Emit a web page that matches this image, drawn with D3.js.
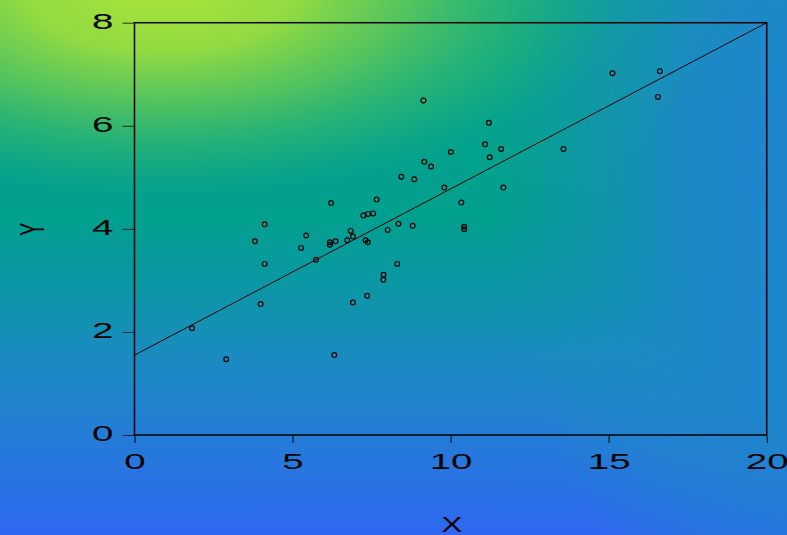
<!DOCTYPE html>
<html>
<head>
<meta charset="utf-8">
<script src="https://cdn.jsdelivr.net/npm/d3@7"></script>
<style>
  html, body { margin: 0; padding: 0; background: #fff; }
  svg { display: block; }
  text { font-family: "Liberation Sans", Arial, sans-serif; fill: #000; }
</style>
</head>
<body>
<svg id="chart" width="787" height="535"></svg>
<script>
// ---- Data ----
const xTicks = [0, 5, 10, 15, 20];
const yTicks = [0, 2, 4, 6, 8];
const xLabel = "X";
const yLabel = "Y";

const xValues = [1.82, 2.90, 3.81, 4.12, 3.99, 4.12, 5.27, 5.43, 5.74, 6.22,
                 6.18, 6.18, 6.36, 6.32, 6.73, 6.84, 6.91, 6.91, 7.24, 7.31,
                 7.38, 7.36, 7.39, 7.55, 7.66, 7.88, 7.87, 8.01, 8.31, 8.35,
                 8.44, 8.80, 8.85, 9.14, 9.17, 9.38, 9.80, 10.01, 10.34, 10.43,
                 10.43, 11.09, 11.21, 11.24, 11.60, 11.67, 13.57, 15.12, 16.56, 16.62];
const yValues = [2.07, 1.47, 3.76, 4.09, 2.54, 3.32, 3.63, 3.87, 3.40, 4.50,
                 3.74, 3.69, 3.76, 1.55, 3.78, 3.96, 3.85, 2.57, 4.26, 3.78,
                 3.74, 2.70, 4.29, 4.30, 4.57, 3.11, 3.01, 3.98, 3.32, 4.10,
                 5.01, 4.06, 4.96, 6.49, 5.30, 5.21, 4.80, 5.49, 4.51, 4.04,
                 3.99, 5.64, 6.06, 5.39, 5.55, 4.80, 5.55, 7.02, 6.56, 7.06];
// fitted regression line end points
const fitX = [0, 20];
const fitY = [1.55, 8.0];

// ---- Layout ----
const W = 787, H = 535;
const plot = { left: 134.5, right: 766.7, top: 22.7, bottom: 435 };
const stretch = 1.75;

const svg = d3.select("#chart");
const defs = svg.append("defs");

// base vertical gradient
const base = defs.append("linearGradient")
  .attr("id", "bgBase").attr("x1", 0).attr("y1", 0).attr("x2", 0).attr("y2", 1);
[[0.00, "#08a88a"], [0.40, "#02a08e"], [0.52, "#0a98a2"], [0.66, "#1a8cc0"],
 [0.78, "#2280d2"], [1.00, "#2f68f2"]]
  .forEach(([o, c]) => base.append("stop").attr("offset", o).attr("stop-color", c));

// yellow-green glow, top left
const glow = defs.append("radialGradient")
  .attr("id", "bgGlow").attr("gradientUnits", "userSpaceOnUse")
  .attr("cx", 160).attr("cy", -10).attr("r", 460).attr("fx", 160).attr("fy", -10)
  .attr("gradientTransform", "translate(160,-10) scale(1,0.45) translate(-160,10)");
[[0.00, "#a8e539", 1], [0.30, "#96dc40", 0.97], [0.55, "#62c956", 0.82],
 [0.80, "#3cbc68", 0.4], [1.00, "#20b078", 0]]
  .forEach(([o, c, a]) => glow.append("stop").attr("offset", o)
    .attr("stop-color", c).attr("stop-opacity", a));

// blue glow, right side
const blue = defs.append("radialGradient")
  .attr("id", "bgBlue").attr("gradientUnits", "userSpaceOnUse")
  .attr("cx", 830).attr("cy", 160).attr("r", 340).attr("fx", 830).attr("fy", 160)
  .attr("gradientTransform", "translate(830,160) scale(1,1.5) translate(-830,-160)");
[[0.00, "#2282d4", 1], [0.45, "#1f86cc", 0.85], [1.00, "#1a90b8", 0]]
  .forEach(([o, c, a]) => blue.append("stop").attr("offset", o)
    .attr("stop-color", c).attr("stop-opacity", a));

svg.append("rect").attr("width", W).attr("height", H).attr("fill", "url(#bgBase)");
svg.append("rect").attr("width", W).attr("height", H).attr("fill", "url(#bgBlue)");
svg.append("rect").attr("width", W).attr("height", H).attr("fill", "url(#bgGlow)");

// scales
const x = d3.scaleLinear().domain([0, 20]).range([plot.left, plot.right]);
const y = d3.scaleLinear().domain([0, 8]).range([plot.bottom, plot.top]);

// y axis
const gy = svg.append("g")
  .attr("transform", `translate(${plot.left},0)`)
  .call(d3.axisLeft(y).tickValues(yTicks).tickSize(12).tickSizeOuter(0).tickFormat(d3.format("d")));
gy.select(".domain").remove();
gy.selectAll(".tick line").attr("stroke", "#000").attr("stroke-opacity", 0.75).attr("stroke-width", 1);
gy.selectAll(".tick text")
  .attr("font-size", 22)
  .attr("x", -21 / stretch)
  .attr("dy", "0.27em")
  .attr("transform", `scale(${stretch},1)`);

// x axis
const gx = svg.append("g")
  .attr("transform", `translate(0,${plot.bottom + 1})`)
  .call(d3.axisBottom(x).tickValues(xTicks).tickSize(7).tickSizeOuter(0).tickFormat(d3.format("d")));
gx.select(".domain").remove();
gx.selectAll(".tick line").attr("stroke", "#000").attr("stroke-width", 1);
gx.selectAll(".tick text")
  .attr("font-size", 22)
  .attr("y", 17.7)
  .attr("dy", "0.71em")
  .attr("transform", `scale(${stretch},1)`);

// plot border
svg.append("rect")
  .attr("x", plot.left).attr("y", plot.top)
  .attr("width", plot.right - plot.left).attr("height", plot.bottom - plot.top)
  .attr("fill", "none").attr("stroke", "#000").attr("stroke-width", 1.5);

// regression line
svg.append("line")
  .attr("x1", x(fitX[0])).attr("y1", y(fitY[0]))
  .attr("x2", x(fitX[1])).attr("y2", y(fitY[1]))
  .attr("stroke", "#000").attr("stroke-width", 1);

// points
svg.append("g").selectAll("circle")
  .data(xValues.map((v, i) => [v, yValues[i]]))
  .join("circle")
  .attr("cx", d => x(d[0])).attr("cy", d => y(d[1]))
  .attr("r", 2.4)
  .attr("fill", "none").attr("stroke", "#000").attr("stroke-width", 1.2);

// axis titles
svg.append("g")
  .attr("transform", `translate(452,531.5) scale(1.45,1)`)
  .append("text")
  .attr("text-anchor", "middle")
  .attr("font-size", 22)
  .text(xLabel);

svg.append("g")
  .attr("transform", `translate(31,229.3) scale(${stretch},1) rotate(-90)`)
  .append("text")
  .attr("text-anchor", "middle")
  .attr("dy", "0.36em")
  .attr("font-size", 20)
  .text(yLabel);
</script>
</body>
</html>
